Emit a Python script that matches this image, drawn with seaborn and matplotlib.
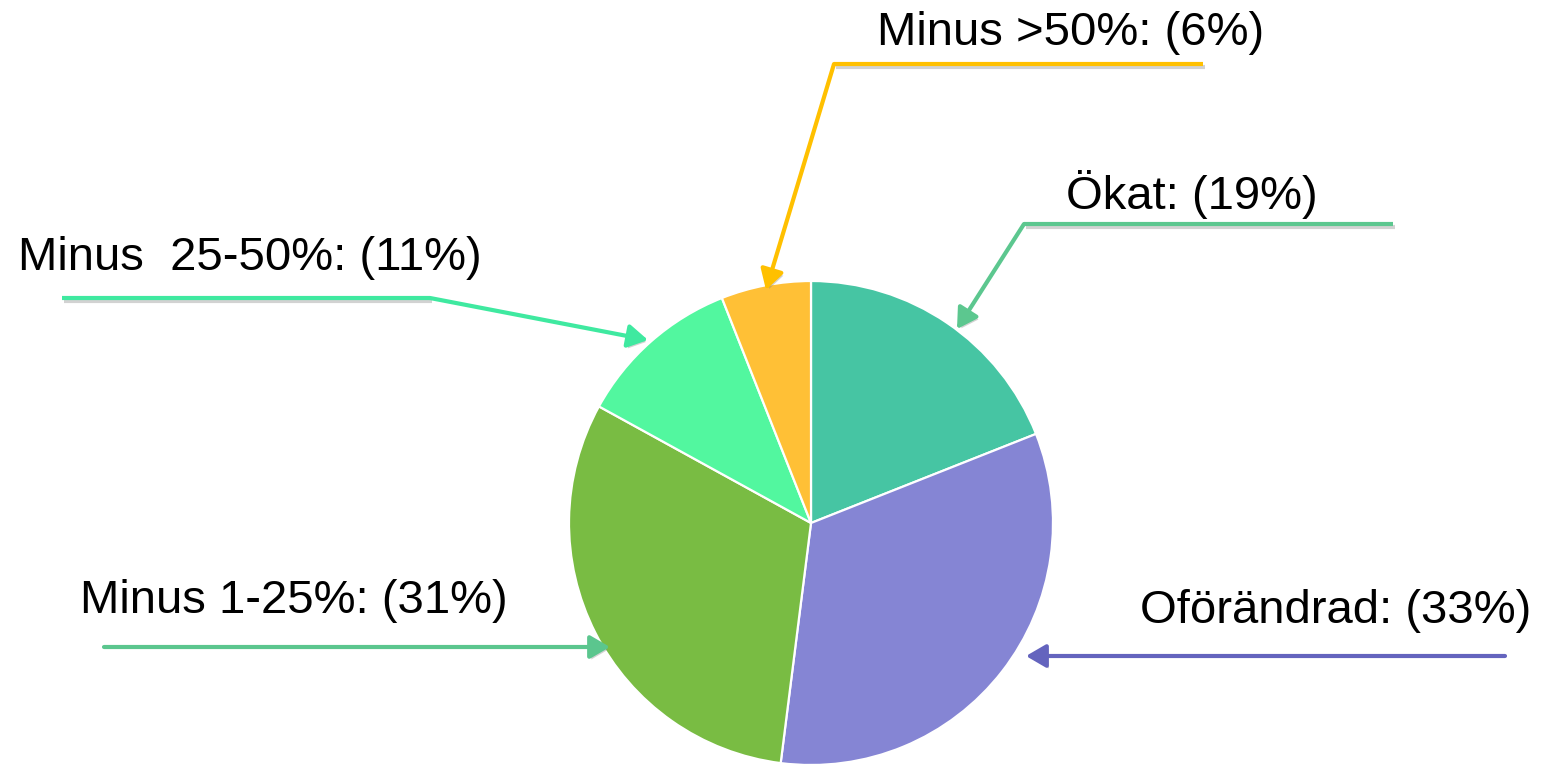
import matplotlib.patheffects as pe
import matplotlib.pyplot as plt
import seaborn as sns

sns.set_theme(style="white")
plt.rcParams["font.family"] = ["Liberation Sans", "DejaVu Sans"]

# data, clockwise from 12 o'clock
categories = ["Ökat", "Oförändrad", "Minus 1-25%", "Minus  25-50%", "Minus >50%"]
shares = [19, 33, 31, 11, 6]
wedge_colors = ["#46C5A3", "#8585D4", "#79BC43", "#52F79F", "#FFC036"]
line_colors = ["#5CC78F", "#6464BE", "#5BC68E", "#3FE9A0", "#FFC000"]

# layout (units of pie radius, pie centre at 0,0)
R_PX = 242.0
CX, CY = 811.0, 523.0


def px(x, y):
    return (x - CX) / R_PX, (CY - y) / R_PX


fig = plt.figure(figsize=(15.42, 7.67), dpi=100)
ax = fig.add_axes([0, 0, 1, 1])

ax.pie(
    shares,
    startangle=90,
    counterclock=False,
    colors=wedge_colors,
    radius=1.0,
    wedgeprops=dict(edgecolor="white", linewidth=1.6),
)

ax.set_xlim(-CX / R_PX, (1542 - CX) / R_PX)
ax.set_ylim(-(767 - CY) / R_PX, CY / R_PX)
ax.set_aspect("equal")
ax.axis("off")

# label text anchor (left x, centre y) and leader path (start, bend) in pixels
label_pos = [(1066, 194), (1140, 611), (80, 601), (18, 258), (877, 33)]
leader_start = [(1393, 224), (1505, 656), (104, 647), (62, 298), (1203, 64)]
leader_bend = [(1024, 224), None, None, (430, 298), (834, 64)]
tip_pos = [(957, 329), (1026, 656), (610, 647), (648, 340), (766, 290)]

shadow = [pe.SimpleLineShadow(offset=(1.5, -2), shadow_color="grey", alpha=0.35),
          pe.Normal()]

for i, cat in enumerate(categories):
    lx, ly = px(*label_pos[i])
    ax.text(lx, ly, f"{cat}: ({shares[i]}%)", fontsize=34, color="black",
            ha="left", va="center")
    sx, sy = px(*leader_start[i])
    tx, ty = px(*tip_pos[i])
    if leader_bend[i] is not None:
        bx, by = px(*leader_bend[i])
        ax.plot([sx, bx], [sy, by], color=line_colors[i], lw=3,
                solid_capstyle="butt", path_effects=shadow)
        sx, sy = bx, by
    ax.annotate(
        "", xy=(tx, ty), xytext=(sx, sy),
        arrowprops=dict(arrowstyle="-|>,head_length=0.6,head_width=0.35",
                        color=line_colors[i], lw=3, shrinkA=0, shrinkB=0,
                        mutation_scale=20,
                        path_effects=[pe.SimplePatchShadow(offset=(1.5, -2),
                                                           shadow_rgbFace="grey",
                                                           alpha=0.35),
                                      pe.Normal()]),
    )

plt.savefig("out.png", dpi=100)
